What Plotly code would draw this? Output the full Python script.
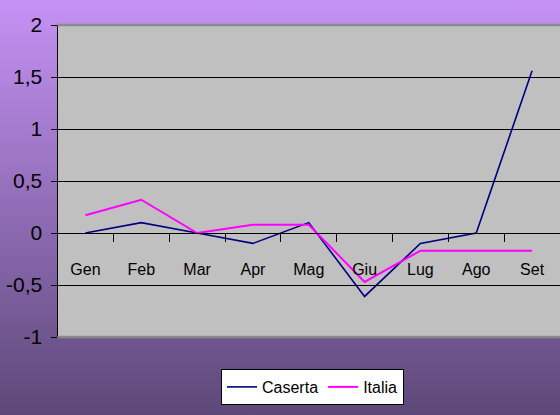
import base64
import plotly.graph_objects as go

months = ["Gen", "Feb", "Mar", "Apr", "Mag", "Giu", "Lug", "Ago", "Set"]
caserta = [0, 0.1, 0, -0.1, 0.1, -0.61, -0.1, 0, 1.56]
italia = [0.17, 0.32, 0, 0.08, 0.08, -0.47, -0.17, -0.17, -0.17]
y_ticks = [-1, -0.5, 0, 0.5, 1, 1.5, 2]
y_labels = ["-1", "-0,5", "0", "0,5", "1", "1,5", "2"]

W, H = 560, 415
FONT = "Liberation Sans Narrow, Arial Narrow, Liberation Sans, Arial, sans-serif"

svg = (
    f'<svg xmlns="http://www.w3.org/2000/svg" width="{W}" height="{H}" '
    f'preserveAspectRatio="none" viewBox="0 0 {W} {H}">'
    '<defs><linearGradient id="g" x1="0" y1="0" x2="0" y2="1">'
    '<stop offset="0" stop-color="#c592f5"/>'
    '<stop offset="1" stop-color="#5d4878"/>'
    '</linearGradient></defs>'
    f'<rect width="{W}" height="{H}" fill="url(#g)"/></svg>'
)
svg_uri = "data:image/svg+xml;base64," + base64.b64encode(svg.encode()).decode()

x_dom = [57.5 / W, 1.0]
y_dom = [(H - 337) / H, (H - 25) / H]
zero_pos = y_dom[0] + (y_dom[1] - y_dom[0]) * (0 - y_ticks[0]) / (y_ticks[-1] - y_ticks[0])

fig = go.Figure()
fig.add_trace(go.Scatter(x=months, y=caserta, name="Caserta", mode="lines",
                         line=dict(color="#000080", width=1.6)))
fig.add_trace(go.Scatter(x=months, y=italia, name="Italia", mode="lines",
                         line=dict(color="#ff00ff", width=2)))

fig.update_layout(
    width=W, height=H,
    margin=dict(l=0, r=0, t=0, b=0, pad=0),
    paper_bgcolor="#8c69b0",
    plot_bgcolor="rgba(0,0,0,0)",
    font=dict(family=FONT, color="black"),
    images=[dict(source=svg_uri, xref="paper", yref="paper", x=0, y=1,
                 sizex=1, sizey=1, xanchor="left", yanchor="top",
                 sizing="stretch", layer="below")],
    shapes=[
        dict(type="rect", xref="x domain", yref="y domain", x0=0, x1=1, y0=0, y1=1,
             fillcolor="#c0c0c0", line=dict(width=0), layer="below"),
        dict(type="line", xref="x domain", yref="y domain", x0=0, x1=1, y0=1, y1=1,
             line=dict(color="#8a8a8a", width=2.5), layer="above"),
        dict(type="line", xref="x domain", yref="y domain", x0=0, x1=1, y0=0, y1=0,
             line=dict(color="#8a8a8a", width=2.5), layer="above"),
    ],
    xaxis=dict(
        domain=x_dom, anchor="free", position=zero_pos, automargin=False,
        type="category", range=[-0.5, 8.5],
        showline=True, linecolor="black", linewidth=1,
        showgrid=False, zeroline=False,
        ticks="outside", tickson="boundaries", ticklen=8, tickcolor="black", tickwidth=1,
        tickfont=dict(size=16, family=FONT, color="black"),
        ticklabelstandoff=22,
    ),
    yaxis=dict(
        domain=y_dom, range=[-1, 2], automargin=False,
        tickvals=y_ticks, ticktext=y_labels,
        showline=True, linecolor="black", linewidth=1,
        showgrid=True, gridcolor="black", gridwidth=1, zeroline=False,
        ticks="outside", ticklen=6, tickcolor="black", tickwidth=1,
        tickfont=dict(size=21, family=FONT, color="black"),
        ticklabelstandoff=4,
    ),
    showlegend=True,
    legend=dict(
        orientation="h", x=221 / W, y=(H - 369) / H, xanchor="left", yanchor="top",
        bgcolor="white", bordercolor="black", borderwidth=1,
        font=dict(size=16, family=FONT, color="black"),
        itemwidth=30, tracegroupgap=0,
    ),
)

fig.write_html(
    "out.html",
    config={"displayModeBar": False},
    post_script="document.body.style.margin='0';document.documentElement.style.margin='0';",
)
